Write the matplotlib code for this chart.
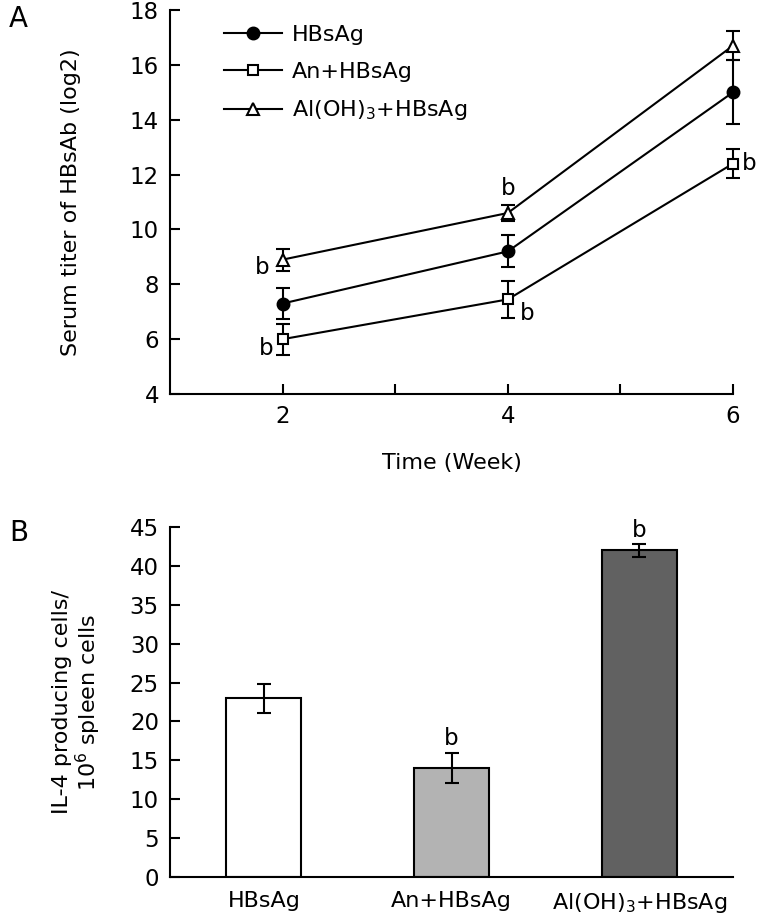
import numpy as np
import matplotlib
matplotlib.use('Agg')
import matplotlib.pyplot as plt

# *****************************************************************************

plt.rcParams['font.family'] = ['DejaVu Sans']
plt.rcParams['mathtext.default'] = 'regular'

# Panel A - serum titer
WEEKS = [2, 4, 6]
GROUPS = ['HBsAg', 'An+HBsAg', 'Al(OH)$_3$+HBsAg']
TITER_HBSAG = [7.3, 9.2, 15.0]
TITER_HBSAG_ERR = [0.55, 0.58, 1.16]
TITER_AN = [6.0, 7.45, 12.4]
TITER_AN_ERR = [0.57, 0.67, 0.54]
TITER_ALOH = [8.9, 10.6, 16.7]
TITER_ALOH_ERR = [0.4, 0.3, 0.54]

# significance marks (x, y) for panel A
SIG_A_X = [1.82, 1.85, 4.0, 4.17, 6.14]
SIG_A_Y = [8.6, 5.65, 11.5, 6.95, 12.4]

# Panel B - IL-4 producing cells
BAR_LABELS = ['HBsAg', 'An+HBsAg', 'Al(OH)$_3$+HBsAg']
IL4_VALS = [23.0, 14.0, 42.0]
IL4_ERR = [1.85, 1.9, 0.8]
BAR_COLORS = ['white', '#b3b3b3', '#616161']
SIG_B_IDX = [1, 2]
SIG_B_Y = [17.8, 44.6]

# *****************************************************************************


def style_axis(axs):
    axs.spines['top'].set_visible(False)
    axs.spines['right'].set_visible(False)
    for sp in ['left', 'bottom']:
        axs.spines[sp].set_linewidth(1.5)
    axs.tick_params(axis='both', which='both', direction='in', width=1.5,
                    length=7, labelsize=16.5, pad=8)


def make_fig():

    fig01 = plt.figure(figsize=(7.57, 9.17), dpi=100)

    # Panel A
    axs01 = fig01.add_axes([0.2246, 0.5703, 0.7437, 0.4188])
    style_axis(axs01)

    series = [(TITER_HBSAG, TITER_HBSAG_ERR, 'o', 'k', 8.5),
              (TITER_AN, TITER_AN_ERR, 's', 'white', 7),
              (TITER_ALOH, TITER_ALOH_ERR, '^', 'white', 8.5)]
    for (vals, errs, mk, fc, ms), lab in zip(series, GROUPS):
        axs01.errorbar(WEEKS, vals, yerr=errs, color='k', lw=1.5,
                       marker=mk, mfc=fc, mec='k', mew=1.5, ms=ms,
                       capsize=4.7, capthick=1.5, elinewidth=1.5,
                       label=lab, clip_on=False, zorder=3)

    for xv, yv in zip(SIG_A_X, SIG_A_Y):
        axs01.text(xv, yv, 'b', fontsize=16.5, ha='center', va='center')

    axs01.set_xlim(1, 6)
    axs01.set_ylim(4, 18)
    axs01.set_xticks([2, 4, 6])
    axs01.set_xticks([3, 5], minor=True)
    axs01.set_yticks(np.arange(4, 19, 2))
    axs01.set_xlabel('Time (Week)', fontsize=16, labelpad=18)
    axs01.set_ylabel('Serum titer of HBsAb (log2)', fontsize=16, labelpad=35)

    hnd, lab = axs01.get_legend_handles_labels()
    hnd = [h[0] for h in hnd]
    axs01.legend(hnd, lab, loc='upper left', bbox_to_anchor=(0.061, 1.013),
                 frameon=False, fontsize=16, handlelength=2.6,
                 handletextpad=0.45, labelspacing=0.75)

    fig01.text(0.012, 0.979, 'A', fontsize=20, ha='left', va='center')

    # Panel B
    axs02 = fig01.add_axes([0.2246, 0.0436, 0.7437, 0.3817])
    style_axis(axs02)

    xpos = np.arange(len(IL4_VALS))
    axs02.bar(xpos, IL4_VALS, width=0.4, color=BAR_COLORS, edgecolor='k',
              linewidth=1.5, zorder=2)
    axs02.errorbar(xpos, IL4_VALS, yerr=IL4_ERR, fmt='none', ecolor='k',
                   elinewidth=1.5, capsize=4.7, capthick=1.5, zorder=3)
    for idx, yv in zip(SIG_B_IDX, SIG_B_Y):
        axs02.text(xpos[idx], yv, 'b', fontsize=16.5, ha='center', va='center')

    axs02.set_xlim(-0.5, 2.5)
    axs02.set_ylim(0, 45)
    axs02.set_yticks(np.arange(0, 46, 5))
    axs02.set_xticks(xpos)
    axs02.set_xticklabels(BAR_LABELS, fontsize=16)
    axs02.tick_params(axis='x', length=0, pad=10)
    axs02.set_ylabel('IL-4 producing cells/\n10$^6$ spleen cells',
                     fontsize=16, labelpad=19, linespacing=1.1)

    fig01.text(0.012, 0.419, 'B', fontsize=20, ha='left', va='center')

    plt.savefig('out.png', dpi=100)
    plt.close()

    return None

# *****************************************************************************


if (__name__ == "__main__"):

    make_fig()

# *****************************************************************************
